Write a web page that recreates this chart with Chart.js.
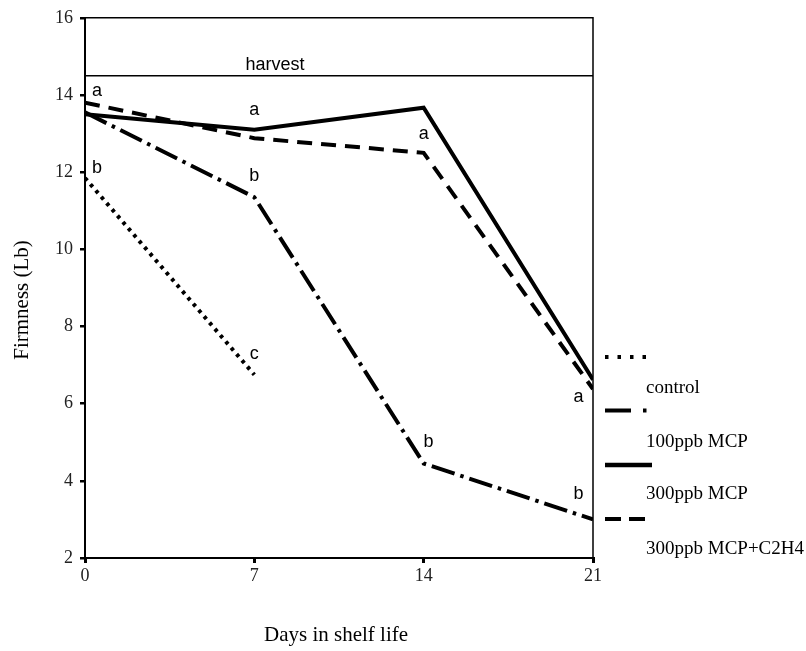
<!DOCTYPE html>
<html>
<head>
<meta charset="utf-8">
<script src="https://cdn.jsdelivr.net/npm/chart.js@4/dist/chart.umd.min.js"></script>
<style>
  html, body { margin: 0; padding: 0; background: #fff; }
  #chart { display: block; }
</style>
</head>
<body>
<canvas id="chart" width="806" height="651"></canvas>
<script>
// Firmness over shelf life, per treatment
const days = [0, 7, 14, 21];
const yTicks = [2, 4, 6, 8, 10, 12, 14, 16];
const harvestValue = 14.5;

const controlDays = [0, 7];
const control = [11.85, 6.75];
const mcp100 = [13.55, 11.35, 4.45, 3.0];
const mcp300 = [13.5, 13.1, 13.67, 6.62];
const mcp300Eth = [13.8, 12.88, 12.5, 6.38];

const seriesNames = ['control', '100ppb MCP', '300ppb MCP', '300ppb MCP+C2H4'];

// significance letters (day, firmness)
const letterText = ['a', 'b', 'a', 'b', 'c', 'a', 'b', 'a', 'b'];
const letterDay = [0.5, 0.5, 7, 7, 7, 14, 14.2, 20.4, 20.4];
const letterValue = [14.1, 12.1, 13.62, 11.89, 7.29, 12.98, 5.0, 6.16, 3.65];

const toPoints = (xs, ys) => ys.map((v, i) => ({ x: xs[i], y: v }));

// dash patterns for each treatment
const dashes = [[3.5, 4.8], [24, 6, 3.5, 6], [], [15, 9]];
const widths = [4, 4, 4, 4];

const serif = '"Liberation Serif", "Times New Roman", serif';
const sans = '"Liberation Sans", Arial, sans-serif';

const extras = {
  id: 'extras',
  afterDraw(chart) {
    const { ctx, chartArea: a, scales: { x, y } } = chart;
    ctx.save();

    // top and right frame
    ctx.strokeStyle = '#000';
    ctx.lineWidth = 1.5;
    ctx.beginPath();
    ctx.moveTo(a.left, a.top);
    ctx.lineTo(a.right, a.top);
    ctx.lineTo(a.right, a.bottom);
    ctx.stroke();

    // harvest line
    const hy = y.getPixelForValue(harvestValue);
    ctx.beginPath();
    ctx.moveTo(a.left, hy);
    ctx.lineTo(a.right, hy);
    ctx.stroke();

    ctx.fillStyle = '#000';
    ctx.font = '18px ' + sans;
    ctx.textAlign = 'center';
    ctx.textBaseline = 'bottom';
    ctx.fillText('harvest', 275, hy - 2);

    // letters
    ctx.textBaseline = 'middle';
    letterText.forEach((t, i) => {
      ctx.fillText(t, x.getPixelForValue(letterDay[i]), y.getPixelForValue(letterValue[i]));
    });

    // axis titles
    ctx.font = '21px ' + serif;
    ctx.fillText('Days in shelf life', 336, 635);
    ctx.save();
    ctx.translate(22, 300);
    ctx.rotate(-Math.PI / 2);
    ctx.fillText('Firmness (Lb)', 0, 0);
    ctx.restore();

    // legend
    const sampleY = [357, 410.5, 465, 519];
    const labelY = [388, 442, 494, 549];
    const legendDash = [[3.5, 9], [26, 12, 3.5, 100], [], [16, 8]];
    const sampleEnd = [647, 647, 652, 646];
    ctx.font = '19px ' + serif;
    ctx.textAlign = 'left';
    seriesNames.forEach((name, i) => {
      ctx.beginPath();
      ctx.setLineDash(legendDash[i]);
      ctx.lineWidth = i === 2 ? 4.5 : 4;
      ctx.moveTo(605, sampleY[i]);
      ctx.lineTo(sampleEnd[i], sampleY[i]);
      ctx.stroke();
      ctx.setLineDash([]);
      ctx.fillText(name, 646, labelY[i]);
    });

    ctx.restore();
  }
};

const datasets = [
  toPoints(controlDays, control),
  toPoints(days, mcp100),
  toPoints(days, mcp300),
  toPoints(days, mcp300Eth)
].map((pts, i) => ({
  label: seriesNames[i],
  data: pts,
  borderColor: '#000',
  borderWidth: widths[i],
  borderDash: dashes[i],
  borderCapStyle: 'butt',
  pointRadius: 0,
  tension: 0,
  fill: false
}));

new Chart(document.getElementById('chart'), {
  type: 'line',
  data: { datasets },
  plugins: [extras],
  options: {
    responsive: false,
    animation: false,
    layout: { padding: { top: 16, right: 213, left: 0, bottom: 0 } },
    plugins: { legend: { display: false }, tooltip: { enabled: false } },
    scales: {
      x: {
        type: 'linear',
        min: 0,
        max: 21,
        afterBuildTicks: s => { s.ticks = days.map(v => ({ value: v })); },
        afterFit: s => { s.height = 93; },
        grid: { drawOnChartArea: false, drawTicks: true, tickLength: 5, lineWidth: 3, color: '#000' },
        border: { color: '#000', width: 2 },
        ticks: { color: '#222', font: { family: serif, size: 18 }, padding: 2, maxRotation: 0 }
      },
      y: {
        min: 2,
        max: 16,
        afterBuildTicks: s => { s.ticks = yTicks.map(v => ({ value: v })); },
        afterFit: s => { s.width = 85; },
        grid: { drawOnChartArea: false, drawTicks: true, tickLength: 5, lineWidth: 2.5, color: '#000' },
        border: { color: '#000', width: 2 },
        ticks: { color: '#222', font: { family: serif, size: 18 }, padding: 7 }
      }
    }
  }
});
</script>
</body>
</html>
